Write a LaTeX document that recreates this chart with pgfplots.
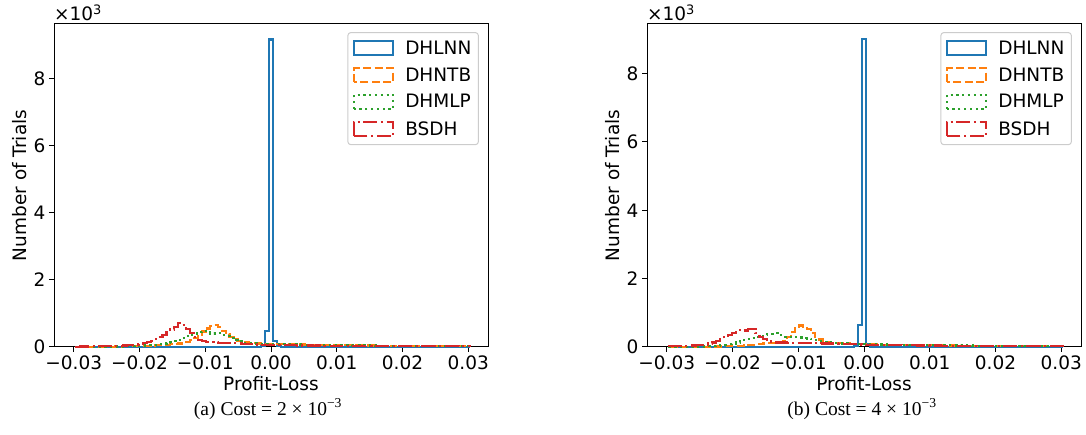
\documentclass[border=0pt]{standalone}
\usepackage{pgfplots}
\pgfplotsset{compat=1.18}
\usepackage{pgfplotstable}
\usepackage{fontspec}
\setmainfont{DejaVu Sans}
\newfontfamily\capfont{Liberation Serif}
\newcommand\fsz{\fontsize{18.5bp}{22bp}\selectfont}
\newcommand\capsz{\fontsize{19.5bp}{23bp}\selectfont}

\definecolor{c0}{HTML}{1F77B4}
\definecolor{c1}{HTML}{FF7F0E}
\definecolor{c2}{HTML}{2CA02C}
\definecolor{c3}{HTML}{D62728}

% Histogram counts, bin width 0.0006; x = left edge of bin.
% First and last rows close the step outline at zero.
\pgfplotstableread{
x lnn ntb mlp bsdh
-0.0297 0 0 0 0
-0.0297 0 5 3 10
-0.0291 0 6 4 12
-0.0285 0 5 4 15
-0.0279 0 8 5 14
-0.0273 0 7 5 18
-0.0267 0 9 6 20
-0.0261 0 10 7 22
-0.0255 0 8 8 25
-0.0249 0 12 9 28
-0.0243 0 11 10 30
-0.0237 0 14 12 35
-0.0231 0 15 14 38
-0.0225 0 18 16 45
-0.0219 0 20 20 55
-0.0213 0 22 25 60
-0.0207 0 25 30 75
-0.0201 0 30 38 90
-0.0195 0 32 45 110
-0.0189 0 38 55 140
-0.0183 0 42 60 180
-0.0177 0 50 65 230
-0.0171 0 55 80 290
-0.0165 0 62 100 360
-0.0159 0 70 120 440
-0.0153 0 80 140 520
-0.0147 0 95 170 600
-0.0141 0 105 210 720
-0.0135 0 120 260 650
-0.0129 0 150 320 540
-0.0123 0 200 360 420
-0.0117 0 280 400 300
-0.0111 0 370 440 220
-0.0105 0 460 480 180
-0.0099 0 550 450 160
-0.0093 0 630 400 150
-0.0087 0 650 400 140
-0.0081 0 590 410 130
-0.0075 0 480 360 120
-0.0069 0 380 330 115
-0.0063 0 300 280 110
-0.0057 0 240 210 110
-0.0051 0 190 170 105
-0.0045 0 160 130 100
-0.0039 0 140 120 95
-0.0033 0 125 110 90
-0.0027 0 115 105 80
-0.0021 5 105 100 70
-0.0015 25 100 100 60
-0.0009 480 95 95 55
-0.0003 9170 90 90 55
0.0003 180 90 88 52
0.0009 30 88 85 55
0.0015 5 85 82 50
0.0021 0 82 80 50
0.0027 0 80 78 48
0.0033 0 78 75 50
0.0039 0 75 72 45
0.0045 0 72 70 45
0.0051 0 70 68 42
0.0057 0 68 66 44
0.0063 0 66 64 40
0.0069 0 64 62 42
0.0075 0 62 60 40
0.0081 0 60 58 38
0.0087 0 58 56 40
0.0093 0 56 54 36
0.0099 0 55 52 38
0.0105 0 53 51 35
0.0111 0 52 50 36
0.0117 0 50 48 34
0.0123 0 48 47 33
0.0129 0 47 46 34
0.0135 0 46 45 32
0.0141 0 45 44 31
0.0147 0 44 43 32
0.0153 0 42 42 30
0.0159 0 41 41 30
0.0165 0 40 40 29
0.0171 0 39 39 28
0.0177 0 38 38 29
0.0183 0 37 37 27
0.0189 0 36 36 27
0.0195 0 35 35 26
0.0201 0 34 34 26
0.0207 0 33 33 25
0.0213 0 32 32 25
0.0219 0 31 31 24
0.0225 0 30 30 24
0.0231 0 30 30 23
0.0237 0 29 29 23
0.0243 0 28 28 22
0.0249 0 27 27 22
0.0255 0 27 27 21
0.0261 0 26 26 21
0.0267 0 25 25 20
0.0273 0 25 25 20
0.0279 0 24 24 20
0.0285 0 23 23 19
0.0291 0 23 23 19
0.0297 0 22 22 18
0.0303 0 0 0 0
}\histA

\pgfplotstableread{
x lnn ntb mlp bsdh
-0.0297 0 0 0 0
-0.0297 0 3 5 20
-0.0291 0 3 6 25
-0.0285 0 4 7 28
-0.0279 0 4 8 30
-0.0273 0 5 9 35
-0.0267 0 5 10 40
-0.0261 0 6 12 45
-0.0255 0 7 14 50
-0.0249 0 8 16 60
-0.0243 0 9 20 75
-0.0237 0 10 25 100
-0.0231 0 12 30 130
-0.0225 0 14 40 170
-0.0219 0 16 50 230
-0.0213 0 20 65 290
-0.0207 0 25 80 350
-0.0201 0 30 100 400
-0.0195 0 35 130 440
-0.0189 0 40 160 500
-0.0183 0 50 200 480
-0.0177 0 60 230 530
-0.0171 0 70 260 520
-0.0165 0 80 300 400
-0.0159 0 90 330 300
-0.0153 0 100 350 230
-0.0147 0 110 370 160
-0.0141 0 110 390 130
-0.0135 0 115 410 130
-0.0129 0 120 350 130
-0.0123 0 180 300 130
-0.0117 0 300 300 125
-0.0111 0 450 290 125
-0.0105 0 560 300 120
-0.0099 0 630 280 120
-0.0093 0 600 260 115
-0.0087 0 530 250 115
-0.0081 0 400 230 110
-0.0075 0 300 200 110
-0.0069 0 220 170 110
-0.0063 0 160 150 105
-0.0057 0 140 130 105
-0.0051 0 125 120 100
-0.0045 0 115 110 100
-0.0039 0 110 105 95
-0.0033 0 105 100 95
-0.0027 0 100 100 90
-0.0021 0 95 95 85
-0.0015 20 90 90 80
-0.0009 640 85 90 75
-0.0003 9000 80 85 70
0.0003 80 78 82 65
0.0009 15 75 80 62
0.0015 0 72 78 60
0.0021 0 70 76 58
0.0027 0 68 74 56
0.0033 0 66 72 55
0.0039 0 64 70 54
0.0045 0 62 68 53
0.0051 0 60 66 52
0.0057 0 58 64 50
0.0063 0 56 62 50
0.0069 0 55 60 48
0.0075 0 53 58 47
0.0081 0 52 56 46
0.0087 0 50 55 45
0.0093 0 49 54 44
0.0099 0 48 52 43
0.0105 0 47 51 42
0.0111 0 46 50 41
0.0117 0 45 49 40
0.0123 0 44 48 39
0.0129 0 43 47 38
0.0135 0 42 46 38
0.0141 0 41 45 37
0.0147 0 40 44 36
0.0153 0 39 43 35
0.0159 0 38 42 35
0.0165 0 37 41 34
0.0171 0 36 40 33
0.0177 0 35 39 33
0.0183 0 34 38 32
0.0189 0 33 37 31
0.0195 0 32 36 31
0.0201 0 31 35 30
0.0207 0 31 34 30
0.0213 0 30 33 29
0.0219 0 29 32 29
0.0225 0 29 31 28
0.0231 0 28 30 28
0.0237 0 27 30 27
0.0243 0 27 29 27
0.0249 0 26 28 26
0.0255 0 26 28 26
0.0261 0 25 27 25
0.0267 0 25 26 25
0.0273 0 24 26 24
0.0279 0 24 25 24
0.0285 0 23 25 23
0.0291 0 23 24 23
0.0297 0 22 24 22
0.0303 0 0 0 0
}\histB

\pgfplotsset{
  histax/.style={
    scale only axis, width=434bp, height=323bp,
    xmin=-0.033, xmax=0.033, ymin=0,
    xtick={-0.03,-0.02,-0.01,0,0.01,0.02,0.03},
    xticklabels={−0.03,−0.02,−0.01,0.00,0.01,0.02,0.03},
    ytick={0,2000,4000,6000,8000},
    yticklabels={0,2,4,6,8},
    scaled x ticks=false, scaled y ticks=false,
    tick align=outside, tick pos=left, major tick length=5bp,
    tick style={black, line width=1bp},
    axis line style={black, line width=1bp},
    ticklabel style={font=\fsz},
    label style={font=\fsz},
    xlabel={Profit-Loss}, ylabel={Number of Trials},
    clip=false,
    legend cell align=left,
    legend image code/.code={%
      \draw[##1, sharp corners, line width=2.6bp] (0bp,-7bp) rectangle (39bp,7bp);
      \path (0bp,-7bp) (48bp,7bp);},
    legend style={at={(0.979,0.975)}, anchor=north east, font=\fsz,
      draw=black!20, line width=1bp, rounded corners=3bp, fill=white,
      inner xsep=5bp, inner ysep=6bp, row sep=8bp},
  },
  lnn/.style={const plot, c0, line width=2.2bp},
  ntb/.style={const plot, c1, line width=2.2bp, dash pattern=on 8bp off 3.5bp},
  mlp/.style={const plot, c2, line width=2.2bp, dash pattern=on 2.2bp off 3.6bp},
  bsdh/.style={const plot, c3, line width=2.2bp, dash pattern=on 14bp off 3.5bp on 2.2bp off 3.5bp},
}

\begin{document}
\begin{tikzpicture}
\path[use as bounding box] (0,0) rectangle (1086bp,435bp);

\begin{axis}[histax, at={(54bp,88bp)}, anchor=south west, ymax=9630]
\addplot[lnn] table[x=x,y=lnn]{\histA};
\addlegendentry{DHLNN}
\addplot[ntb] table[x=x,y=ntb]{\histA};
\addlegendentry{DHNTB}
\addplot[mlp] table[x=x,y=mlp]{\histA};
\addlegendentry{DHMLP}
\addplot[bsdh] table[x=x,y=bsdh]{\histA};
\addlegendentry{BSDH}
\node[anchor=south west, font=\fsz, inner sep=0pt, yshift=3bp] at (rel axis cs:0,1) {×10\textsuperscript{3}};
\end{axis}

\begin{axis}[histax, at={(647bp,88bp)}, anchor=south west, ymax=9450]
\addplot[lnn] table[x=x,y=lnn]{\histB};
\addlegendentry{DHLNN}
\addplot[ntb] table[x=x,y=ntb]{\histB};
\addlegendentry{DHNTB}
\addplot[mlp] table[x=x,y=mlp]{\histB};
\addlegendentry{DHMLP}
\addplot[bsdh] table[x=x,y=bsdh]{\histB};
\addlegendentry{BSDH}
\node[anchor=south west, font=\fsz, inner sep=0pt, yshift=3bp] at (rel axis cs:0,1) {×10\textsuperscript{3}};
\end{axis}

\node[font=\capfont\capsz] at (268bp,26bp) {(a) Cost = 2 × 10\textsuperscript{−3}};
\node[font=\capfont\capsz] at (862bp,26bp) {(b) Cost = 4 × 10\textsuperscript{−3}};
\end{tikzpicture}
\end{document}
